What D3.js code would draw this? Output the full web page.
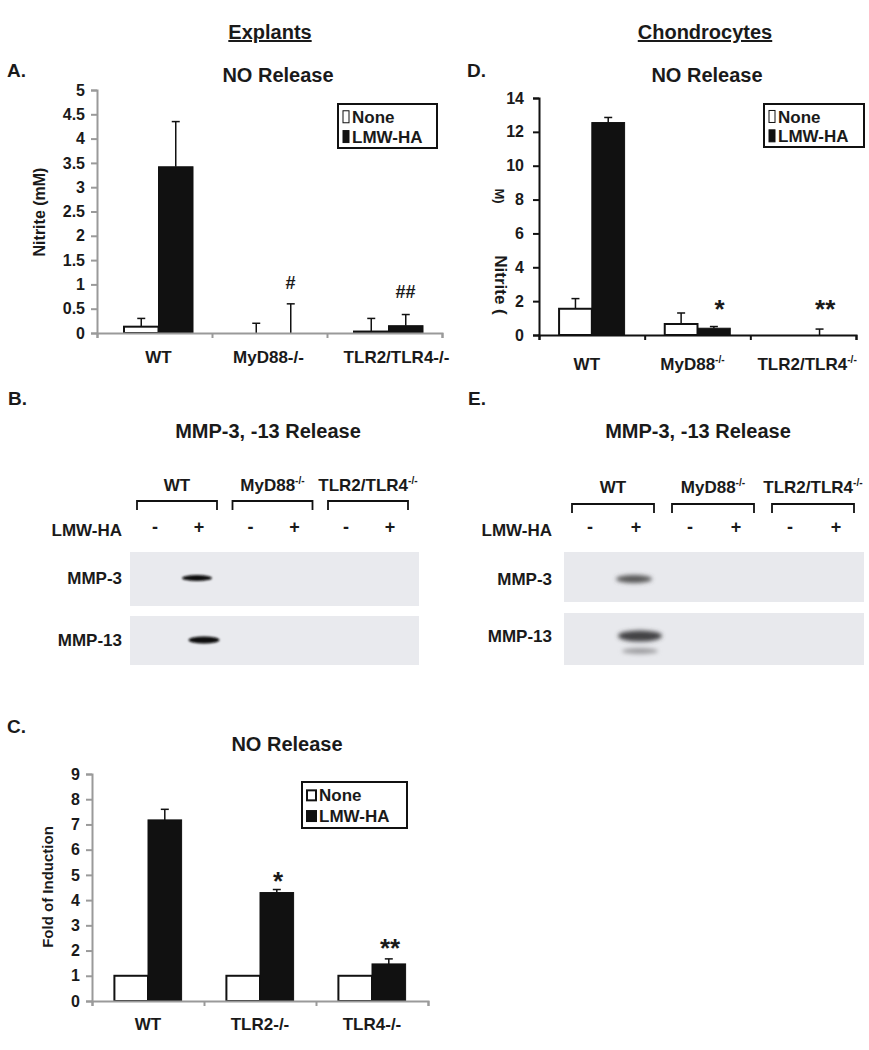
<!DOCTYPE html>
<html><head><meta charset="utf-8">
<script src="https://cdn.jsdelivr.net/npm/d3@7"></script>
<style>
body{margin:0;background:#fff;}
text{font-family:"Liberation Sans",Arial,sans-serif;font-weight:bold;fill:#1a1a1a;}
</style></head>
<body>
<svg id="fig" width="869" height="1050"></svg>
<script>
// ---------- DATA ----------
const seriesNames = ["None", "LMW-HA"];

// Panel A: explants NO release (Nitrite)
const catsA = ["WT", "MyD88-/-", "TLR2/TLR4-/-"];
const noneA = [0.13, 0, 0.03];
const lmwA = [3.42, 0, 0.15];
const noneErrA = [0.30, 0.20, 0.30];
const lmwErrA = [4.35, 0.60, 0.38];
const ticksA = [0, 0.5, 1, 1.5, 2, 2.5, 3, 3.5, 4, 4.5, 5];
const sigA = ["", "#", "##"];

// Panel D: chondrocytes NO release (Nitrite)
const catsD = ["WT", "MyD88", "TLR2/TLR4"];
const noneD = [1.55, 0.65, 0];
const lmwD = [12.55, 0.40, 0];
const noneErrD = [2.15, 1.30, null];
const lmwErrD = [12.85, 0.50, 0.35];
const ticksD = [0, 2, 4, 6, 8, 10, 12, 14];
const sigD = ["", "*", "**"];

// Panel C: explants NO release, fold of induction
const catsC = ["WT", "TLR2-/-", "TLR4-/-"];
const noneC = [1, 1, 1];
const lmwC = [7.18, 4.30, 1.47];
const lmwErrC = [7.60, 4.42, 1.67];
const ticksC = [0, 1, 2, 3, 4, 5, 6, 7, 8, 9];
const sigC = ["", "*", "**"];

// Blots (B: explants, E: chondrocytes)
const blotGroups = ["WT", "MyD88", "TLR2/TLR4"];
const blotLanes = ["-", "+", "-", "+", "-", "+"];
const blotRows = ["MMP-3", "MMP-13"];
const bandsB_MMP3 = [0, 1, 0, 0, 0, 0];
const bandsB_MMP13 = [0, 1, 0, 0, 0, 0];
const bandsE_MMP3 = [0, 0.7, 0, 0, 0, 0];
const bandsE_MMP13 = [0, 0.8, 0, 0, 0, 0];

// ---------- DRAW ----------
const svg = d3.select("#fig");
const defs = svg.append("defs");
defs.append("filter").attr("id","blur1").attr("x","-50%").attr("y","-100%").attr("width","200%").attr("height","300%")
  .append("feGaussianBlur").attr("stdDeviation","0.8");
defs.append("filter").attr("id","blur2").attr("x","-50%").attr("y","-100%").attr("width","200%").attr("height","300%")
  .append("feGaussianBlur").attr("stdDeviation","2.2");

const TITLE = 20, LAB = 17, TICK = 16;

function txt(x, y, s, size, anchor) {
  return svg.append("text").attr("x", x).attr("y", y).attr("font-size", size)
    .attr("text-anchor", anchor || "start").text(s);
}
function supLabel(g, x, y, base, sup, size, anchor) {
  const t = g.append("text").attr("x", x).attr("y", y).attr("font-size", size).attr("text-anchor", anchor || "middle");
  t.append("tspan").text(base);
  t.append("tspan").attr("font-size", size * 0.6).attr("dy", -size * 0.42).text(sup);
  return t;
}

// Section headers
txt(270, 39, "Explants", TITLE, "middle").attr("text-decoration", "underline");
txt(705, 39, "Chondrocytes", TITLE, "middle").attr("text-decoration", "underline");

function barChart(o) {
  const g = svg.append("g");
  const y = d3.scaleLinear().domain([0, o.max]).range([o.y1, o.y0]);
  const x = d3.scaleBand().domain(o.cats).range([o.x0, o.x1]);
  const bw = x.bandwidth() * o.bwf;
  o.cats.forEach((c, i) => {
    const cx = x(c) + x.bandwidth() / 2 + (o.shift || 0);
    const vals = [o.none[i], o.lmw[i]];
    const errs = [o.noneErr ? o.noneErr[i] : null, o.lmwErr ? o.lmwErr[i] : null];
    vals.forEach((v, k) => {
      const bx = k === 0 ? cx - bw : cx;
      if (v > 0) {
        g.append("rect").attr("x", bx).attr("y", y(v)).attr("width", bw).attr("height", y(0) - y(v))
          .attr("fill", k === 0 ? "#fff" : "#111").attr("stroke", "#111").attr("stroke-width", k === 0 ? 2 : 1);
      }
      const e = errs[k];
      if (e != null) {
        const ex = bx + bw / 2;
        g.append("line").attr("x1", ex).attr("x2", ex).attr("y1", y(v)).attr("y2", y(e)).attr("stroke", "#111").attr("stroke-width", 1.5);
        g.append("line").attr("x1", ex - 4).attr("x2", ex + 4).attr("y1", y(e)).attr("y2", y(e)).attr("stroke", "#111").attr("stroke-width", 1.5);
      }
    });
    if (o.sig[i]) {
      g.append("text").attr("x", cx + (o.sigDx || 0)).attr("y", o.sigY[i]).attr("text-anchor", "middle")
        .attr("font-size", o.sigSize || 16).text(o.sig[i]);
    }
  });
  const yAxis = d3.axisLeft(y).tickValues(o.ticks).tickSize(6).tickPadding(o.tickPad || 6).tickFormat(d3.format("~g"));
  const ya = g.append("g").attr("transform", `translate(${o.x0},0)`).call(yAxis);
  ya.select(".domain").attr("stroke", o.axisColor).attr("stroke-width", o.axisW);
  ya.selectAll(".tick line").attr("stroke", o.axisColor).attr("stroke-width", o.axisW);
  ya.selectAll(".tick text").attr("font-size", TICK).attr("font-family", "Liberation Sans, Arial").attr("font-weight", "bold").attr("fill", "#1a1a1a");
  const xb = d3.scaleLinear().domain([0, 3]).range([o.x0, o.x1]);
  const xAxis = d3.axisBottom(xb).tickValues([0, 1, 2, 3]).tickSize(5).tickFormat("");
  const xa = g.append("g").attr("transform", `translate(0,${o.y1})`).call(xAxis);
  xa.select(".domain").attr("stroke", o.axisColor).attr("stroke-width", o.axisW);
  xa.selectAll(".tick line").attr("stroke", o.axisColor).attr("stroke-width", o.axisW);
  o.cats.forEach((c, i) => {
    const cx = x(c) + x.bandwidth() / 2 + (o.shift || 0) + (o.labDx ? o.labDx[i] : 0);
    if (o.sups && o.sups[i]) supLabel(g, cx, o.labelY, c, o.sups[i], LAB);
    else g.append("text").attr("x", cx).attr("y", o.labelY).attr("text-anchor", "middle").attr("font-size", LAB).text(c);
  });
  const L = o.legend;
  g.append("rect").attr("x", L.x).attr("y", L.y).attr("width", L.w).attr("height", L.h)
    .attr("fill", "#fff").attr("stroke", "#111").attr("stroke-width", 2);
  seriesNames.forEach((s, k) => {
    const ly = L.y + L.h * (k === 0 ? 0.29 : 0.74);
    g.append("rect").attr("x", L.x + 5).attr("y", ly - L.ms / 2).attr("width", L.mw).attr("height", L.ms)
      .attr("fill", k === 0 ? "#fff" : "#111").attr("stroke", "#111").attr("stroke-width", L.mstroke || 1);
    g.append("text").attr("x", L.x + 8 + L.mw).attr("y", ly + L.fs * 0.36).attr("font-size", L.fs).text(s);
  });
  return { g, y };
}

// Panel A
txt(7, 77, "A.", 19);
txt(278, 82, "NO Release", TITLE, "middle");
barChart({
  cats: catsA, none: noneA, lmw: lmwA, noneErr: noneErrA, lmwErr: lmwErrA, max: 5, ticks: ticksA,
  x0: 97, x1: 442, y0: 90, y1: 333, bwf: 0.3, shift: 4, axisColor: "#9a9a9a", axisW: 2,
  sig: sigA, sigY: [0, 289, 298], sigSize: 18, sigDx: 17, labelY: 363, labDx: [0, -5, 8],
  legend: { x: 338, y: 104, w: 99, h: 44, fs: 17, mw: 6, ms: 12 }
});
svg.append("text").attr("transform", "translate(45,212) rotate(-90)").attr("text-anchor", "middle")
  .attr("font-size", 16).text("Nitrite (mM)");

// Panel D
txt(467, 77, "D.", 19);
txt(707, 82, "NO Release", TITLE, "middle");
barChart({
  cats: catsD, none: noneD, lmw: lmwD, noneErr: noneErrD, lmwErr: lmwErrD, max: 14, ticks: ticksD,
  x0: 539, x1: 856, y0: 98, y1: 335, bwf: 0.31, shift: 0, axisColor: "#111", axisW: 2, tickPad: 9,
  sig: sigD, sigY: [0, 318, 318], sigSize: 26, sigDx: 22, labelY: 370, labDx: [-5, -5, 4], sups: ["", "-/-", "-/-"],
  legend: { x: 764, y: 104, w: 100, h: 43, fs: 17, mw: 6, ms: 12 }
});
svg.append("text").attr("transform", "translate(495,285) rotate(90)").attr("text-anchor", "middle")
  .attr("font-size", 17).text("Nitrite (");
svg.append("text").attr("transform", "translate(495,196) rotate(90)").attr("text-anchor", "middle")
  .attr("font-size", 13).attr("font-weight", "normal").text("M)");

// Panel C
txt(7, 733, "C.", 19);
txt(287, 751, "NO Release", TITLE, "middle");
barChart({
  cats: catsC, none: noneC, lmw: lmwC, noneErr: null, lmwErr: lmwErrC, max: 9, ticks: ticksC,
  x0: 92, x1: 428, y0: 774, y1: 1001, bwf: 0.3, shift: 0, axisColor: "#9a9a9a", axisW: 2,
  sig: sigC, sigY: [0, 890, 957], sigSize: 26, sigDx: 18, labelY: 1030,
  legend: { x: 302, y: 782, w: 105, h: 46, fs: 17, mw: 9, ms: 10, mstroke: 2 }
});
svg.append("text").attr("transform", "translate(53,887) rotate(-90)").attr("text-anchor", "middle")
  .attr("font-size", 15).text("Fold of Induction");

// Blots
function blot(o) {
  const g = svg.append("g");
  const gx = d3.scalePoint().domain(blotGroups).range([o.g0, o.g1]);
  const lane = (j) => gx(blotGroups[Math.floor(j / 2)]) + (j % 2 === 0 ? -o.lo : o.lo);
  blotGroups.forEach((gr, i) => {
    const c = gx(gr);
    if (o.sups[i]) supLabel(g, c, o.labY, gr, o.sups[i], LAB);
    else g.append("text").attr("x", c).attr("y", o.labY).attr("text-anchor", "middle").attr("font-size", LAB).text(gr);
    g.append("path").attr("d", `M${c - o.bw / 2},${o.brY + 9}V${o.brY}H${c + o.bw / 2}V${o.brY + 9}`)
      .attr("fill", "none").attr("stroke", "#111").attr("stroke-width", 1.8);
  });
  g.append("text").attr("x", o.rowLabX).attr("y", o.lmwY).attr("text-anchor", "end").attr("font-size", LAB).text("LMW-HA");
  blotLanes.forEach((s, j) => {
    g.append("text").attr("x", lane(j)).attr("y", o.lmwY - 3).attr("text-anchor", "middle").attr("font-size", 18).text(s);
  });
  o.rows.forEach((r, k) => {
    g.append("rect").attr("x", o.x0).attr("y", r.y).attr("width", o.x1 - o.x0).attr("height", r.h).attr("fill", o.bg);
    g.append("text").attr("x", o.rowLabX).attr("y", r.by + 6).attr("text-anchor", "end").attr("font-size", LAB).text(blotRows[k]);
    r.bands.forEach((v, j) => {
      if (v <= 0) return;
      g.append("ellipse").attr("cx", lane(j) + r.dx).attr("cy", r.by).attr("rx", r.bwid / 2).attr("ry", r.bh / 2)
        .attr("fill", d3.interpolateRgb(o.bg, o.ink)(v)).attr("filter", `url(#${o.blur})`);
      if (r.faint) {
        g.append("ellipse").attr("cx", lane(j) + r.dx).attr("cy", r.by + 15).attr("rx", r.bwid / 2 - 4).attr("ry", 3)
          .attr("fill", d3.interpolateRgb(o.bg, o.ink)(v * 0.45)).attr("filter", `url(#${o.blur})`);
      }
    });
  });
}

txt(8, 405, "B.", 19);
txt(268, 438, "MMP-3, -13 Release", TITLE, "middle");
blot({
  g0: 177, g1: 368, lo: 22, bw: 80, brY: 501, labY: 491, lmwY: 536, rowLabX: 122, sups: ["", "-/-", "-/-"],
  x0: 130, x1: 419, bg: "#e9eaee", ink: "#0a0a0a", blur: "blur1",
  rows: [
    { y: 552, h: 54, by: 578, bands: bandsB_MMP3, bwid: 30, bh: 6, dx: -2 },
    { y: 616, h: 49, by: 640, bands: bandsB_MMP13, bwid: 31, bh: 7, dx: 5 }
  ]
});

txt(468, 405, "E.", 19);
txt(698, 438, "MMP-3, -13 Release", TITLE, "middle");
blot({
  g0: 613, g1: 813, lo: 23, bw: 82, brY: 504, labY: 493, lmwY: 536, rowLabX: 552, sups: ["", "-/-", "-/-"],
  x0: 564, x1: 864, bg: "#e8e9ed", ink: "#1a1a1a", blur: "blur2",
  rows: [
    { y: 552, h: 50, by: 579, bands: bandsE_MMP3, bwid: 36, bh: 8, dx: -2 },
    { y: 613, h: 52, by: 636, bands: bandsE_MMP13, bwid: 44, bh: 11, dx: 4, faint: true }
  ]
});
</script>
</body></html>
